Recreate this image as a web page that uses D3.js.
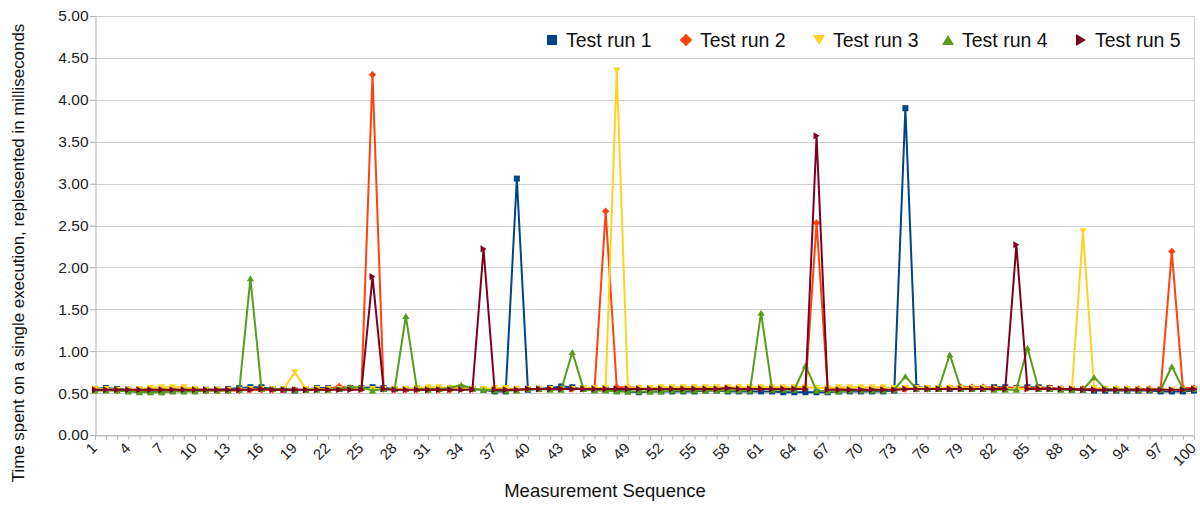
<!DOCTYPE html>
<html>
<head>
<meta charset="utf-8">
<script src="https://cdn.jsdelivr.net/npm/d3@7"></script>
<style>
  html, body { margin: 0; padding: 0; background: #ffffff; }
  svg { display: block; font-family: "Liberation Sans", Arial, sans-serif; }
</style>
</head>
<body>
<svg id="chart" width="1200" height="508"></svg>
<script>
const categories = d3.range(1, 101);
const seriesNames = ["Test run 1", "Test run 2", "Test run 3", "Test run 4", "Test run 5"];
const yTicks = [0, 0.5, 1, 1.5, 2, 2.5, 3, 3.5, 4, 4.5, 5];
const xTickLabels = d3.range(1, 101, 3);

const run1 = [
  0.55,0.56,0.55,0.54,0.53,0.52,0.52,0.53,0.54,0.54,
  0.54,0.54,0.55,0.56,0.57,0.57,0.55,0.54,0.53,0.54,
  0.56,0.56,0.55,0.56,0.56,0.57,0.56,0.55,0.55,0.55,
  0.55,0.55,0.56,0.56,0.55,0.54,0.52,0.52,3.06,0.54,
  0.55,0.56,0.58,0.57,0.55,0.54,0.54,0.53,0.52,0.51,
  0.52,0.52,0.52,0.52,0.52,0.53,0.53,0.52,0.52,0.52,
  0.52,0.52,0.51,0.51,0.51,0.51,0.51,0.52,0.52,0.52,
  0.52,0.52,0.53,3.90,0.57,0.56,0.56,0.55,0.55,0.56,
  0.56,0.57,0.57,0.56,0.57,0.57,0.56,0.55,0.54,0.54,
  0.53,0.53,0.53,0.53,0.53,0.53,0.52,0.52,0.52,0.53
];
const run2 = [
  0.54,0.54,0.53,0.53,0.53,0.54,0.54,0.54,0.54,0.54,
  0.53,0.53,0.53,0.53,0.54,0.54,0.54,0.54,0.54,0.54,
  0.55,0.55,0.58,0.56,0.55,4.30,0.55,0.54,0.54,0.54,
  0.54,0.54,0.54,0.55,0.55,0.55,0.55,0.54,0.54,0.55,
  0.55,0.55,0.55,0.55,0.55,0.55,2.67,0.57,0.57,0.56,
  0.55,0.55,0.55,0.55,0.55,0.55,0.55,0.56,0.56,0.56,
  0.56,0.56,0.56,0.56,0.56,2.53,0.55,0.55,0.54,0.54,
  0.54,0.54,0.54,0.55,0.55,0.55,0.56,0.56,0.57,0.57,
  0.57,0.56,0.56,0.56,0.56,0.56,0.56,0.55,0.55,0.55,
  0.55,0.55,0.55,0.55,0.55,0.55,0.55,2.19,0.56,0.56
];
const run3 = [
  0.55,0.55,0.54,0.54,0.55,0.56,0.57,0.57,0.57,0.55,
  0.54,0.54,0.54,0.54,0.55,0.55,0.55,0.55,0.75,0.55,
  0.55,0.55,0.55,0.55,0.55,0.55,0.55,0.55,0.55,0.56,
  0.57,0.57,0.56,0.56,0.55,0.55,0.56,0.56,0.55,0.55,
  0.55,0.55,0.55,0.55,0.56,0.56,0.56,4.35,0.56,0.56,
  0.56,0.57,0.57,0.57,0.57,0.57,0.57,0.57,0.57,0.57,
  0.57,0.57,0.57,0.57,0.57,0.56,0.56,0.57,0.57,0.57,
  0.57,0.57,0.56,0.56,0.56,0.56,0.56,0.56,0.56,0.56,
  0.56,0.55,0.55,0.55,0.55,0.55,0.55,0.55,0.55,2.43,
  0.56,0.55,0.55,0.55,0.54,0.54,0.54,0.54,0.54,0.55
];
const run4 = [
  0.53,0.53,0.53,0.52,0.51,0.51,0.51,0.52,0.52,0.52,
  0.53,0.53,0.53,0.54,1.87,0.55,0.55,0.55,0.54,0.54,
  0.54,0.54,0.55,0.57,0.57,0.53,0.55,0.55,1.42,0.55,
  0.54,0.55,0.56,0.60,0.55,0.54,0.53,0.53,0.53,0.55,
  0.55,0.54,0.54,0.99,0.55,0.53,0.53,0.52,0.52,0.52,
  0.52,0.52,0.53,0.53,0.53,0.53,0.53,0.53,0.53,0.53,
  1.46,0.54,0.54,0.54,0.83,0.53,0.52,0.52,0.53,0.53,
  0.53,0.53,0.54,0.70,0.55,0.55,0.55,0.96,0.55,0.55,
  0.55,0.54,0.54,0.54,1.04,0.55,0.55,0.54,0.54,0.54,
  0.69,0.55,0.54,0.54,0.54,0.54,0.54,0.82,0.55,0.55
];
const run5 = [
  0.54,0.54,0.54,0.54,0.54,0.54,0.54,0.54,0.54,0.54,
  0.54,0.54,0.54,0.54,0.54,0.55,0.54,0.54,0.54,0.54,
  0.54,0.54,0.54,0.54,0.54,1.89,0.55,0.54,0.54,0.54,
  0.54,0.54,0.54,0.54,0.54,2.22,0.54,0.54,0.54,0.55,
  0.55,0.55,0.55,0.55,0.55,0.55,0.55,0.55,0.55,0.55,
  0.55,0.55,0.55,0.55,0.55,0.55,0.55,0.56,0.55,0.55,
  0.55,0.55,0.55,0.55,0.55,3.57,0.54,0.54,0.54,0.54,
  0.54,0.54,0.54,0.55,0.55,0.55,0.55,0.55,0.55,0.55,
  0.55,0.55,0.55,2.27,0.55,0.55,0.55,0.55,0.55,0.54,
  0.54,0.54,0.54,0.54,0.54,0.54,0.54,0.54,0.54,0.55
];
const seriesValues = [run1, run2, run3, run4, run5];

const colors = ["#004586", "#ff420e", "#ffd320", "#579d1c", "#7e0021"];
const markerShapes = ["square", "diamond", "down", "up", "right"];

const svg = d3.select("#chart");
const pLeft = 95, pRight = 1194, pTop = 16, pBottom = 435;

const x = d3.scaleLinear().domain([1, 100]).range([pLeft, pRight]);
const y = d3.scaleLinear().domain([0, 5]).range([pBottom, pTop]);

// gridlines
svg.append("g").selectAll("line").data(yTicks).join("line")
  .attr("x1", pLeft - 5).attr("x2", pRight)
  .attr("y1", d => Math.round(y(d)) + 0.5).attr("y2", d => Math.round(y(d)) + 0.5)
  .attr("stroke", "#cfcfcf").attr("stroke-width", 1);

// right border
svg.append("line").attr("x1", pRight + 0.5).attr("x2", pRight + 0.5)
  .attr("y1", pTop).attr("y2", pBottom).attr("stroke", "#cfcfcf");

// y axis
const yAxis = d3.axisLeft(y).tickValues(yTicks).tickFormat(d3.format(".2f")).tickSize(5).tickPadding(2);
const gy = svg.append("g").attr("transform", `translate(${pLeft + 0.5},0)`).call(yAxis);
gy.select(".domain").attr("stroke", "#b3b3b3");
gy.selectAll(".tick line").attr("stroke", "#b3b3b3");
gy.selectAll(".tick text").attr("font-size", 15.5).attr("fill", "#222")
  .attr("font-family", "Liberation Sans, Arial, sans-serif");

// x axis
const xAxis = d3.axisBottom(x).tickValues(categories).tickSize(4).tickFormat("");
const gx = svg.append("g").attr("transform", `translate(0,${pBottom + 0.5})`).call(xAxis);
gx.select(".domain").attr("stroke", "#b3b3b3");
gx.selectAll(".tick line").attr("stroke", "#b3b3b3");

svg.append("g").selectAll("text").data(xTickLabels).join("text")
  .attr("transform", d => `translate(${x(d) + 3},${pBottom + 14}) rotate(-45)`)
  .attr("text-anchor", "end")
  .attr("font-size", 15).attr("fill", "#222")
  .text(d => d);

// axis titles
svg.append("text").attr("x", 605).attr("y", 497).attr("text-anchor", "middle")
  .attr("font-size", 18.5).attr("fill", "#111").text("Measurement Sequence");
svg.append("text").attr("transform", "translate(24,253) rotate(-90)").attr("text-anchor", "middle")
  .attr("font-size", 16.9).attr("fill", "#111")
  .text("Time spent on a single execution, replesented in milliseconds");

function markerPath(shape, s) {
  switch (shape) {
    case "square": return `M${-s},${-s}H${s}V${s}H${-s}Z`;
    case "diamond": return `M0,${-s * 1.25}L${s * 1.25},0L0,${s * 1.25}L${-s * 1.25},0Z`;
    case "down": return `M${-s * 1.2},${-s}H${s * 1.2}L0,${s}Z`;
    case "up": return `M${-s * 1.2},${s}H${s * 1.2}L0,${-s}Z`;
    case "right": return `M${-s},${-s * 1.2}L${s},0L${-s},${s * 1.2}Z`;
  }
}

const line = d3.line().x((d, i) => x(categories[i])).y(d => y(d));

seriesValues.forEach((vals, si) => {
  const g = svg.append("g");
  g.append("path").datum(vals).attr("d", line)
    .attr("fill", "none").attr("stroke", colors[si]).attr("stroke-width", 2)
    .attr("stroke-linejoin", "round");
  g.selectAll("path.m").data(vals).join("path").attr("class", "m")
    .attr("transform", (d, i) => `translate(${x(categories[i])},${y(d)})`)
    .attr("d", markerPath(markerShapes[si], 3))
    .attr("fill", colors[si]);
});

// legend
const legendX = [552, 686, 819, 948, 1081];
const lg = svg.append("g");
seriesNames.forEach((name, i) => {
  lg.append("path").attr("transform", `translate(${legendX[i]},40)`)
    .attr("d", markerPath(markerShapes[i], 5)).attr("fill", colors[i]);
  lg.append("text").attr("x", legendX[i] + 14).attr("y", 47)
    .attr("font-size", 19.5).attr("fill", "#111").text(name);
});
</script>
</body>
</html>
